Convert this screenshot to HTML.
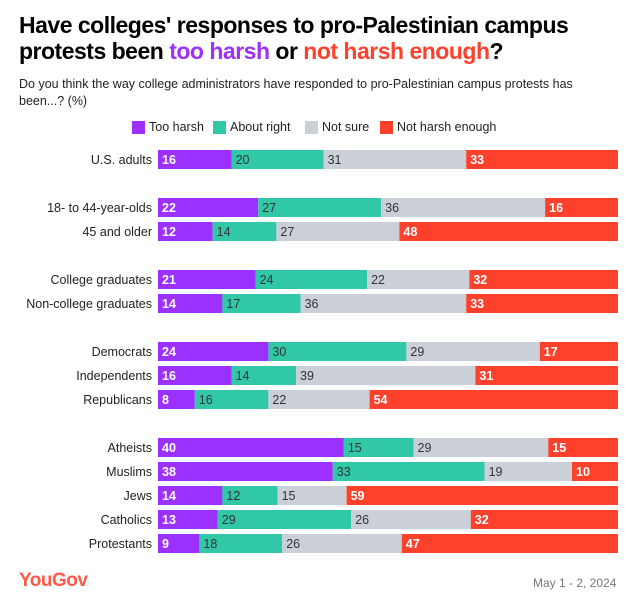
<!DOCTYPE html>
<html><head><meta charset="utf-8"><style>
body{margin:0;background:#fff;width:638px;height:604px;overflow:hidden;font-family:"Liberation Sans",sans-serif;}
h1{position:absolute;left:19px;top:12px;margin:0;font-size:23px;line-height:26px;font-weight:bold;color:#000;letter-spacing:-0.5px;width:610px}
.sub{position:absolute;left:19px;top:76px;font-size:12.5px;line-height:17px;color:#222;width:600px}
.leg{position:absolute;top:120px;font-size:12.5px;color:#222;display:flex;align-items:center}
.leg i{display:inline-block;width:13px;height:13px;margin-right:4px}
.foot{position:absolute;font-size:12px;color:#777}
</style></head><body>
<h1>Have colleges' responses to pro-Palestinian campus protests been <span style="color:#9b30ff">too harsh</span> or <span style="color:#ff412c">not harsh enough</span>?</h1>
<div class="sub">Do you think the way college administrators have responded to pro-Palestinian campus protests has been...? (%)</div>
<div class="leg" style="left:132px"><i style="background:#9b30ff"></i>Too harsh</div>
<div class="leg" style="left:213px"><i style="background:#30c8a6"></i>About right</div>
<div class="leg" style="left:305px"><i style="background:#cbcfd8"></i>Not sure</div>
<div class="leg" style="left:380px"><i style="background:#ff412c"></i>Not harsh enough</div>
<svg id="chart" width="638" height="604" style="position:absolute;left:0;top:0"></svg>
<div class="foot" style="left:19px;top:570px;font-size:19px;color:#ff5a47;font-weight:bold;letter-spacing:-0.5px">YouGov</div>
<div class="foot" style="left:533px;top:576px">May 1 - 2, 2024</div>
<script>
const categories=["U.S. adults","18- to 44-year-olds","45 and older","College graduates","Non-college graduates","Democrats","Independents","Republicans","Atheists","Muslims","Jews","Catholics","Protestants"];
const tooHarsh=[16,22,12,21,14,24,16,8,40,38,14,13,9];
const aboutRight=[20,27,14,24,17,30,14,16,15,33,12,29,18];
const notSure=[31,36,27,22,36,29,39,22,29,19,15,26,26];
const notHarshEnough=[33,16,48,32,33,17,31,54,15,10,59,32,47];
const rowTops=[150,198,222,270,294,342,366,390,438,462,486,510,534];
const series=[tooHarsh,aboutRight,notSure,notHarshEnough];
const colors=["#9b30ff","#30c8a6","#cbcfd8","#ff412c"];
const txt=["#fff","#333","#333","#fff"];
const names=["too-harsh","about-right","not-sure","not-harsh-enough"];
const x0=158,x1=618,bh=19;
const svg=document.getElementById('chart');const NS="http://www.w3.org/2000/svg";
categories.forEach((c,i)=>{
 const y=rowTops[i];
 const total=series.reduce((s,a)=>s+a[i],0);
 const sx=v=>v/total*(x1-x0);
 const l=document.createElementNS(NS,'text');
 
 
 l.setAttribute('x',x0-6);l.setAttribute('y',y+bh/2+4.5);l.setAttribute('text-anchor','end');
 l.setAttribute('font-size','12.5');l.setAttribute('fill','#222');l.setAttribute('font-family','Liberation Sans, sans-serif');
 l.textContent=c;svg.appendChild(l);
 let x=x0;
 series.forEach((a,k)=>{
  const w=sx(a[i]);
  const r=document.createElementNS(NS,'rect');
  
  
  r.setAttribute('x',x);r.setAttribute('y',y);r.setAttribute('width',w);r.setAttribute('height',bh);r.setAttribute('fill',colors[k]);
  svg.appendChild(r);
  const t=document.createElementNS(NS,'text');
  
  
  t.setAttribute('x',x+4);t.setAttribute('y',y+bh/2+4.5);t.setAttribute('font-size','12.5');
  t.setAttribute('fill',txt[k]);t.setAttribute('font-family','Liberation Sans, sans-serif');
  if(k==0||k==3)t.setAttribute('font-weight','bold');
  t.textContent=a[i];svg.appendChild(t);
  x+=w;
 });
});
</script>
</body></html>
